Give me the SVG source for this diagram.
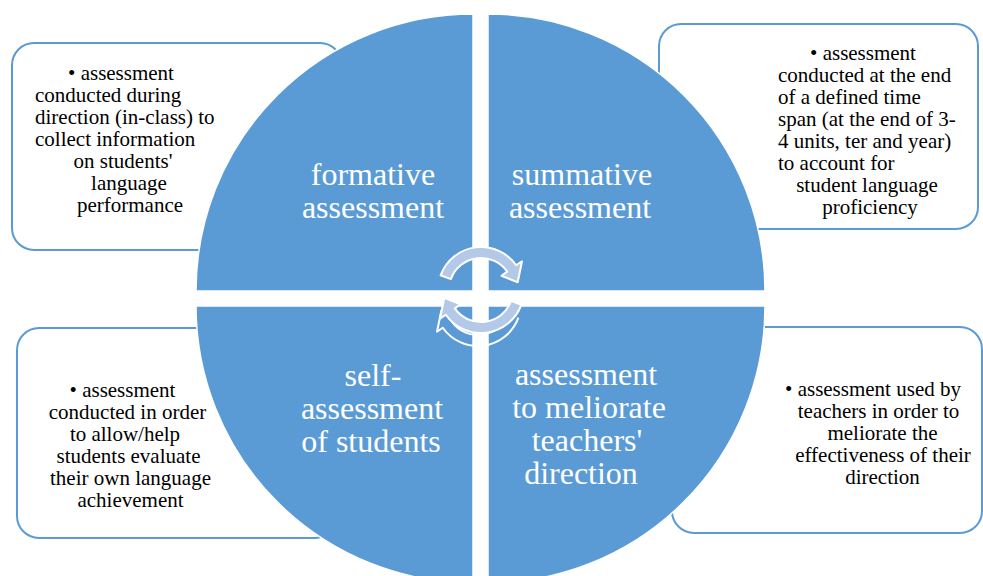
<svg xmlns="http://www.w3.org/2000/svg" width="983" height="576" viewBox="0 0 983 576">
<style>
.box{fill:#fff;stroke:#5B9BD5;stroke-width:2}
.q{fill:#5B9BD5;stroke:#fff;stroke-width:1.5}
.bt{font-family:"Liberation Serif","Times New Roman",serif;font-size:21px;fill:#000}
.c{text-anchor:middle}
.lb{font-family:"Liberation Serif","Times New Roman",serif;font-size:32px;fill:#fff;text-anchor:middle}
.arr{fill:#B4C9E7;stroke:#fff;stroke-width:2;stroke-linejoin:round}
.arrOut{fill:none;stroke:#fff;stroke-width:2;stroke-linejoin:round}
</style>
<rect width="983" height="576" fill="#fff"/>
<g id="box-formative"><rect class="box" x="12" y="43" width="330" height="207" rx="22"/>
<text class="bt c" x="121" y="80">• assessment</text>
<text class="bt" x="35" y="102">conducted during</text>
<text class="bt" x="35" y="124">direction (in-class) to</text>
<text class="bt" x="35" y="146">collect information</text>
<text class="bt c" x="123" y="168">on students'</text>
<text class="bt c" x="129" y="190">language</text>
<text class="bt c" x="130" y="212">performance</text>
</g>
<g id="box-summative"><rect class="box" x="659" y="24" width="319" height="205" rx="22"/>
<text class="bt c" x="863" y="60">• assessment</text>
<text class="bt" x="778" y="82">conducted at the end</text>
<text class="bt" x="778" y="104">of a defined time</text>
<text class="bt" x="778" y="126">span (at the end of 3-</text>
<text class="bt" x="778" y="148">4 units, ter and year)</text>
<text class="bt" x="778" y="170">to account for</text>
<text class="bt c" x="867" y="192">student language</text>
<text class="bt c" x="870" y="214">proficiency</text>
</g>
<g id="box-self"><rect class="box" x="17" y="328" width="320" height="210" rx="22"/>
<text class="bt c" x="122.5" y="397">• assessment</text>
<text class="bt c" x="127.5" y="419">conducted in order</text>
<text class="bt c" x="125" y="441">to allow/help</text>
<text class="bt c" x="128.5" y="463">students evaluate</text>
<text class="bt c" x="130.5" y="485">their own language</text>
<text class="bt c" x="130.5" y="507">achievement</text>
</g>
<g id="box-meliorate"><rect class="box" x="672" y="327" width="310" height="206" rx="22"/>
<text class="bt c" x="873" y="396">• assessment used by</text>
<text class="bt c" x="878.5" y="418">teachers in order to</text>
<text class="bt c" x="882.5" y="440">meliorate the</text>
<text class="bt c" x="883" y="462">effectiveness of their</text>
<text class="bt c" x="882.5" y="484">direction</text>
</g>
<g id="q-formative"><path class="q" d="M473 291 L196 291 A277 277 0 0 1 473 14 Z"/>
<text class="lb" x="373" y="185">formative</text><text class="lb" x="373" y="218">assessment</text></g>
<g id="q-summative"><path class="q" d="M488 291 L488 14 A277 277 0 0 1 765 291 Z"/>
<text class="lb" x="582" y="185">summative</text><text class="lb" x="580" y="218">assessment</text></g>
<g id="q-self"><path class="q" d="M473 306 L473 583 A277 277 0 0 1 196 306 Z"/>
<text class="lb" x="373" y="386">self-</text><text class="lb" x="372" y="419">assessment</text><text class="lb" x="371" y="452">of students</text></g>
<g id="q-meliorate"><path class="q" d="M488 306 L765 306 A277 277 0 0 1 488 583 Z"/>
<text class="lb" x="586" y="385">assessment</text><text class="lb" x="589" y="418">to meliorate</text><text class="lb" x="587" y="451">teachers'</text><text class="lb" x="581" y="484">direction</text></g>
<g id="connectors">
<path class="arrOut" transform="translate(-3 13)" d="M521.4 304.7 A43 43 0 0 1 445.8 314.7 L440 318.7 L444.3 297.8 L460.5 304.3 L454.8 308.4 A32 32 0 0 0 511.1 300.9"/>
<path class="arr" d="M440.6 275.3 A43 43 0 0 1 516.2 265.3 L522 261.3 L517.7 282.2 L501.5 275.7 L507.2 271.6 A32 32 0 0 0 450.9 279.1 Z"/>
<path class="arr" d="M521.4 304.7 A43 43 0 0 1 445.8 314.7 L440 318.7 L444.3 297.8 L460.5 304.3 L454.8 308.4 A32 32 0 0 0 511.1 300.9 Z"/>
</g>
</svg>
